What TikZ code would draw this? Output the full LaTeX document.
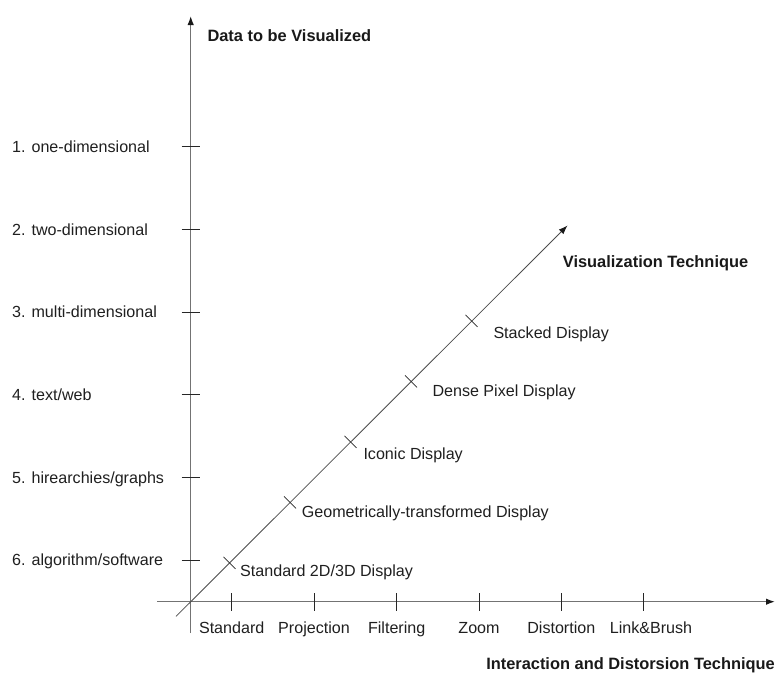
\documentclass[tikz,border=0pt]{standalone}
\usepackage{fontspec}
\setmainfont{Liberation Sans}
\usetikzlibrary{arrows.meta}
\begin{document}
\begin{tikzpicture}[x=1pt,y=-1pt,
  axis/.style={draw=black!55, line width=1.4pt},
  diag/.style={draw=black!70, line width=0.8pt},
  tickmark/.style={draw=black!85, line width=0.9pt},
  lbl/.style={font=\fontsize{16.1}{19}\selectfont, inner sep=0pt, text=black!88},
  title/.style={inner sep=0pt, text=black!90, font=\fontsize{16.4}{19}\selectfont\bfseries},
  tip/.style={-{Latex[length=9pt,width=6.5pt,color=black!90]}}
]
\useasboundingbox (0,0) rectangle (776,673);

% axis end points
\coordinate (O) at (190.7,601.7);
\coordinate (ytop) at (190.7,16);
\coordinate (ybot) at (190.7,633);
\coordinate (xleft) at (157,601.7);
\coordinate (xright) at (775,601.7);
\coordinate (dlow) at (176,616.4);
\coordinate (dtop) at (567.5,225.5);

\draw[axis, tip] (ybot) -- (ytop);
\draw[axis, tip] (xleft) -- (xright);
\draw[diag, tip] (dlow) -- (dtop);

% data types along the vertical axis
\coordinate (v1) at (190.7,146.7);
\coordinate (v2) at (190.7,229.3);
\coordinate (v3) at (190.7,312.0);
\coordinate (v4) at (190.7,394.7);
\coordinate (v5) at (190.7,477.3);
\coordinate (v6) at (190.7,560.0);
\foreach \k in {1,...,6}
  \draw[tickmark] ([xshift=-9pt]v\k) -- ([xshift=9pt]v\k);
\node[lbl, anchor=base west] (d1) at (12,152.5) {1. one-dimensional};
\node[lbl, anchor=base west] (d2) at (12,235.1) {2. two-dimensional};
\node[lbl, anchor=base west] (d3) at (12,317.8) {3. multi-dimensional};
\node[lbl, anchor=base west] (d4) at (12,400.5) {4. text/web};
\node[lbl, anchor=base west] (d5) at (12,483.1) {5. hirearchies/graphs};
\node[lbl, anchor=base west] (d6) at (12,565.8) {6. algorithm/software};

% interaction techniques along the horizontal axis
\coordinate (h1) at (231.7,601.7);
\coordinate (h2) at (314.0,601.7);
\coordinate (h3) at (396.7,601.7);
\coordinate (h4) at (479.0,601.7);
\coordinate (h5) at (561.3,601.7);
\coordinate (h6) at (643.5,601.7);
\foreach \k in {1,...,6}
  \draw[tickmark] ([yshift=-9pt]h\k) -- ([yshift=9pt]h\k);
\node[lbl, anchor=base] (i1) at (231.7,633.8) {Standard};
\node[lbl, anchor=base] (i2) at (314.0,633.8) {Projection};
\node[lbl, anchor=base] (i3) at (396.7,633.8) {Filtering};
\node[lbl, anchor=base] (i4) at (479.0,633.8) {Zoom};
\node[lbl, anchor=base] (i5) at (561.3,633.8) {Distortion};
\node[lbl, anchor=base] (i6) at (651.0,633.8) {Link\&Brush};

% visualization techniques along the diagonal
\coordinate (g1) at (229.5,562.9);
\coordinate (g2) at (290.0,502.3);
\coordinate (g3) at (350.5,441.8);
\coordinate (g4) at (411.0,381.3);
\coordinate (g5) at (471.5,320.8);
\foreach \k in {1,...,5}
  \draw[tickmark, line width=0.7pt] ([xshift=-6pt,yshift=6pt]g\k) -- ([xshift=6pt,yshift=-6pt]g\k);
\node[lbl, anchor=base west] (t1) at (240.0,576.0) {Standard 2D/3D Display};
\node[lbl, anchor=base west] (t2) at (301.7,517.5) {Geometrically-transformed Display};
\node[lbl, anchor=base west] (t3) at (363.3,459.0) {Iconic Display};
\node[lbl, anchor=base west] (t4) at (432.3,396.0) {Dense Pixel Display};
\node[lbl, anchor=base west] (t5) at (493.3,338.0) {Stacked Display};

% axis titles
\node[title, anchor=base west] (ydata) at (207.3,41.0) {Data to be Visualized};
\node[title, anchor=base west] (dvis) at (562.7,267.0) {Visualization Technique};
\node[title, anchor=base east] (xint) at (775.0,669.0) {Interaction and Distorsion Technique};
\end{tikzpicture}
\end{document}
